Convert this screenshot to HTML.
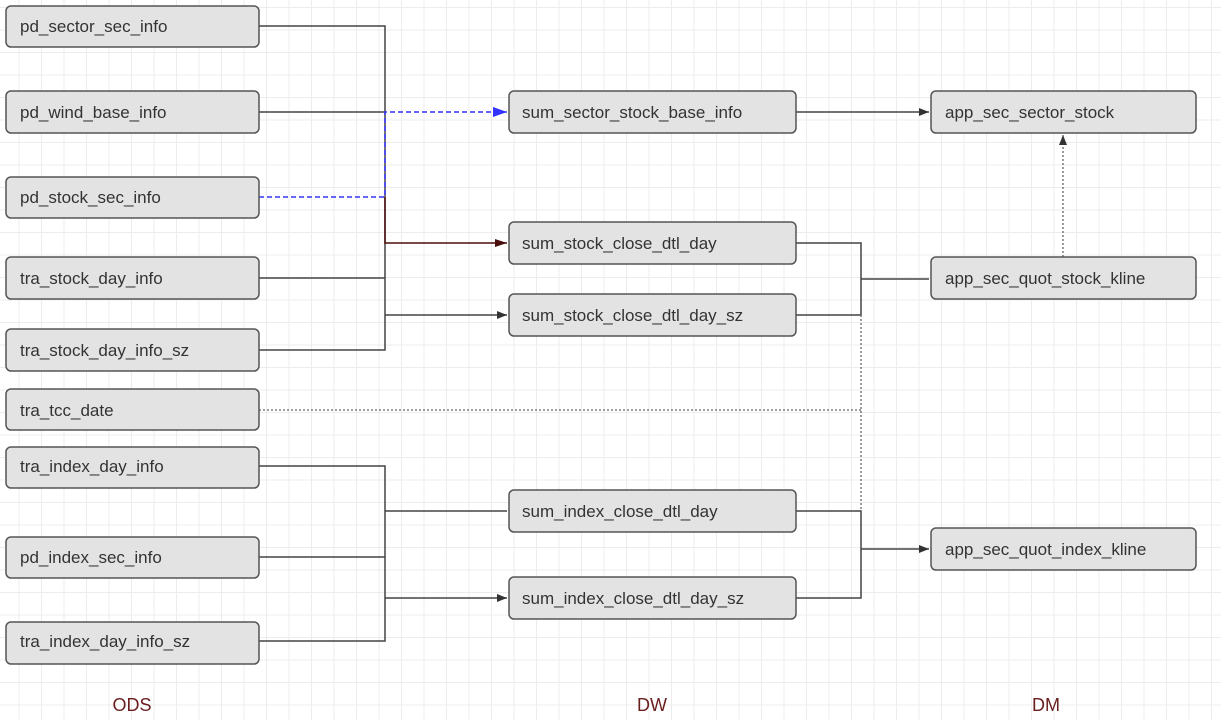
<!DOCTYPE html>
<html><head><style>
body{margin:0;width:1221px;height:720px;overflow:hidden;background:#fff;font-family:"Liberation Sans",sans-serif}
.bg{position:absolute;left:0;top:0;width:1221px;height:720px;
background-image:linear-gradient(#ececec 1px,transparent 1px),linear-gradient(90deg,#ececec 1px,transparent 1px);
background-size:22.5px 22.5px;background-position:-4px 7px}
</style></head><body>
<div class="bg"></div>
<svg width="1221" height="720" style="position:absolute;left:0;top:0" font-family="Liberation Sans, sans-serif">
<defs>
<marker id="a" markerWidth="10" markerHeight="8" refX="10" refY="4" orient="auto" markerUnits="userSpaceOnUse"><path d="M0,0 L10,4 L0,8 Z" fill="#333"/></marker>
<marker id="b" markerWidth="14" markerHeight="10" refX="14" refY="5" orient="auto" markerUnits="userSpaceOnUse"><path d="M0,0 L14,5 L0,10 Z" fill="#33f"/></marker>
<marker id="r" markerWidth="12" markerHeight="8" refX="12" refY="4" orient="auto" markerUnits="userSpaceOnUse"><path d="M0,0 L12,4 L0,8 Z" fill="#4a0d0d"/></marker>
</defs>
<g fill="none" stroke="#444" stroke-width="1.5">
<path d="M259 26H385V350H259M259 112H385M259 278H385"/>
<path d="M385 315H507" marker-end="url(#a)"/>
<path d="M259 466H385V641H259M259 557H385"/>
<path d="M385 511H507M385 598H507" marker-end="url(#a)"/>
<path d="M796 112H929" marker-end="url(#a)"/>
<path d="M796 243H861V315H796M796 511H861V598H796"/>
<path d="M861 279H929M861 549H929" marker-end="url(#a)"/>
</g>
<path d="M385 197V243H507" fill="none" stroke="#4a0d0d" stroke-width="1.5" marker-end="url(#r)"/>
<path d="M259 197H385V112H507" fill="none" stroke="#33f" stroke-width="1.5" stroke-dasharray="5,3" marker-end="url(#b)"/>
<g fill="none" stroke="#666" stroke-width="1.3" stroke-dasharray="2,2">
<path d="M259 410H861M861 315V511"/>
<path d="M1063 257V135" marker-end="url(#a)"/>
</g>
<g fill="#e3e3e3" stroke="#555" stroke-width="1.5">
<rect x="6" y="6" width="253" height="41" rx="5"/>
<rect x="6" y="91" width="253" height="42" rx="5"/>
<rect x="6" y="177" width="253" height="41" rx="5"/>
<rect x="6" y="257" width="253" height="42" rx="5"/>
<rect x="6" y="329" width="253" height="42" rx="5"/>
<rect x="6" y="389" width="253" height="41" rx="5"/>
<rect x="6" y="447" width="253" height="41" rx="5"/>
<rect x="6" y="537" width="253" height="41" rx="5"/>
<rect x="6" y="622" width="253" height="42" rx="5"/>
<rect x="509" y="91" width="287" height="42" rx="5"/>
<rect x="509" y="222" width="287" height="42" rx="5"/>
<rect x="509" y="294" width="287" height="42" rx="5"/>
<rect x="509" y="490" width="287" height="42" rx="5"/>
<rect x="509" y="577" width="287" height="42" rx="5"/>
<rect x="931" y="91" width="265" height="42" rx="5"/>
<rect x="931" y="257" width="265" height="42" rx="5"/>
<rect x="931" y="528" width="265" height="42" rx="5"/>
</g>
<g font-size="17" fill="#333">
<text x="20" y="32">pd_sector_sec_info</text>
<text x="20" y="118">pd_wind_base_info</text>
<text x="20" y="203">pd_stock_sec_info</text>
<text x="20" y="284">tra_stock_day_info</text>
<text x="20" y="356">tra_stock_day_info_sz</text>
<text x="20" y="416">tra_tcc_date</text>
<text x="20" y="472">tra_index_day_info</text>
<text x="20" y="563">pd_index_sec_info</text>
<text x="20" y="647">tra_index_day_info_sz</text>
<text x="522" y="118">sum_sector_stock_base_info</text>
<text x="522" y="249">sum_stock_close_dtl_day</text>
<text x="522" y="321">sum_stock_close_dtl_day_sz</text>
<text x="522" y="517">sum_index_close_dtl_day</text>
<text x="522" y="604">sum_index_close_dtl_day_sz</text>
<text x="945" y="118">app_sec_sector_stock</text>
<text x="945" y="284">app_sec_quot_stock_kline</text>
<text x="945" y="555">app_sec_quot_index_kline</text>
</g>
<g font-size="18" fill="#6b1e1e" text-anchor="middle">
<text x="132" y="711">ODS</text>
<text x="652" y="711">DW</text>
<text x="1046" y="711">DM</text>
</g>
</svg>
</body></html>
